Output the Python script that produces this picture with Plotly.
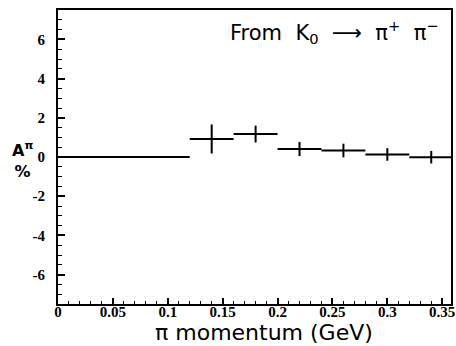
import plotly.graph_objects as go

bin_lo = [0.0, 0.12, 0.16, 0.20, 0.24, 0.28, 0.32]
bin_hi = [0.12, 0.16, 0.20, 0.24, 0.28, 0.32, 0.36]
asym = [0.0, 0.92, 1.17, 0.41, 0.33, 0.13, -0.01]
asym_err = [0.0, 0.74, 0.43, 0.36, 0.35, 0.32, 0.32]

x_ticks = [0, 0.05, 0.1, 0.15, 0.2, 0.25, 0.3, 0.35]
x_ticktext = ["0", "0.05", "0.1", "0.15", "0.2", "0.25", "0.3", "0.35"]
y_ticks = [-6, -4, -2, 0, 2, 4, 6]
y_ticktext = ["-6", "-4", "-2", "0", "2", "4", "6"]

centers = [(a + b) / 2 for a, b in zip(bin_lo, bin_hi)]
halfw = [(b - a) / 2 for a, b in zip(bin_lo, bin_hi)]

fig = go.Figure()
fig.add_trace(go.Scatter(
    x=centers, y=asym, mode="markers",
    marker=dict(size=1, color="black"),
    error_x=dict(type="data", array=halfw, symmetric=True, width=0, thickness=2, color="black"),
    error_y=dict(type="data", array=asym_err, symmetric=True, width=0, thickness=2, color="black"),
    showlegend=False, hoverinfo="skip",
))

tickfont = dict(family="Liberation Serif", size=15, color="black", weight="bold")
fig.update_xaxes(
    range=[0, 0.358], showline=True, linewidth=2, linecolor="black", mirror=True,
    tickvals=x_ticks, ticktext=["<b>%s</b>" % t for t in x_ticktext],
    ticks="inside", ticklen=6, tickwidth=1.5,
    tickcolor="black", tickfont=tickfont, showgrid=False, zeroline=False,
    ticklabelstandoff=-7, ticklabeloverflow="allow", automargin=False,
    minor=dict(dtick=0.01, tick0=0, ticks="inside", ticklen=3, tickwidth=1.2, tickcolor="black", showgrid=False),
)
fig.update_yaxes(
    range=[-7.5, 7.5], showline=True, linewidth=2, linecolor="black", mirror=True,
    tickvals=y_ticks, ticktext=["<b>%s</b>" % t for t in y_ticktext],
    ticks="inside", ticklen=7, tickwidth=1.5,
    tickcolor="black", tickfont=tickfont, showgrid=False, zeroline=False,
    ticklabelstandoff=8, ticklabeloverflow="allow", automargin=False,
    minor=dict(dtick=0.5, tick0=0, ticks="inside", ticklen=3.5, tickwidth=1.2, tickcolor="black", showgrid=False),
)

fig.add_annotation(
    text="From  K<sub>0</sub>  ⟶  π<sup>+</sup>  π<sup>−</sup>",
    xref="paper", yref="paper", x=0.975, y=0.925, xanchor="right", yanchor="middle",
    showarrow=False, font=dict(family="DejaVu Sans", size=21, color="black"),
)
fig.add_annotation(
    text="π momentum (GeV)",
    xref="paper", yref="paper", x=0.525, y=-0.097, xanchor="center", yanchor="middle",
    showarrow=False, font=dict(family="DejaVu Sans", size=22, color="black"),
)
fig.add_annotation(
    text="<b>A<sup>π</sup></b><br><b>%</b>",
    xref="paper", yref="paper", x=-0.09, y=0.49, xanchor="center", yanchor="middle",
    showarrow=False, font=dict(family="DejaVu Sans", size=16, color="black"),
)

fig.update_layout(
    width=456, height=346,
    margin=dict(l=58, r=5, t=10, b=42, autoexpand=False),
    plot_bgcolor="white", paper_bgcolor="white",
)
fig.write_html("out.html", config={"displayModeBar": False},
               post_script="document.body.style.margin='0px';")
